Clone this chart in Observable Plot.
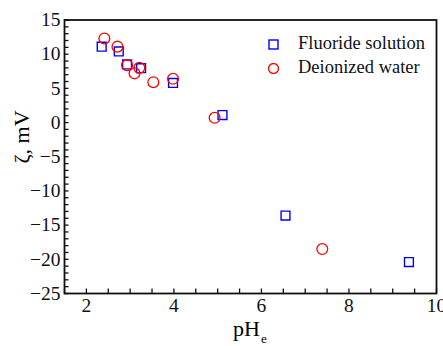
<!DOCTYPE html>
<html>
<head>
<meta charset="utf-8">
<script src="https://cdn.jsdelivr.net/npm/d3@7"></script>
<script src="https://cdn.jsdelivr.net/npm/@observablehq/plot@0.6"></script>
<style>
  html, body { margin: 0; padding: 0; background: #fff; }
  #wrap { position: relative; width: 443px; height: 346px; overflow: hidden; font-family: "Liberation Serif", "Times New Roman", serif; }
  #wrap svg { position: absolute; left: 0; top: 0; }
  #wrap svg text { font-family: "Liberation Serif", "Times New Roman", serif !important; }
  .lab { position: absolute; color: #000; white-space: nowrap; font-family: "Liberation Serif", "Times New Roman", serif; }
  .leg { position: absolute; font-size: 18.5px; color: #111; white-space: nowrap; line-height: 1; font-family: "Liberation Serif", "Times New Roman", serif; }
</style>
</head>
<body>
<div id="wrap"></div>
<script>
// ---- data ----
const seriesNames = ["Fluoride solution", "Deionized water"];
const fluoridePH   = [2.35, 2.74, 2.93, 3.25, 3.98, 5.11, 6.55, 9.37];
const fluorideZeta = [11.1, 10.4, 8.5, 7.95, 5.8, 1.1, -13.6, -20.4];
const waterPH      = [2.41, 2.71, 2.93, 3.10, 3.21, 3.53, 3.98, 4.93, 7.39];
const waterZeta    = [12.3, 11.1, 8.4, 7.2, 8.0, 5.9, 6.4, 0.7, -18.5];
const xTicks = [2, 4, 6, 8, 10];
const yTicks = [-25, -20, -15, -10, -5, 0, 5, 10, 15];

const fluoride = fluoridePH.map((x, i) => ({x, y: fluorideZeta[i]}));
const water = waterPH.map((x, i) => ({x, y: waterZeta[i]}));
const xMinor = d3.range(1.5, 10.001, 0.5);
const yMinor = d3.range(-25, 15.001, 1);

const font = "'Liberation Serif', 'Times New Roman', serif";
const chart = Plot.plot({
  width: 443,
  height: 346,
  marginLeft: 64,
  marginRight: 7,
  marginTop: 19.5,
  marginBottom: 53,
  style: {fontFamily: font, fontSize: "19.5px", color: "#111", background: "white"},
  x: {domain: [1.5, 10]},
  y: {domain: [-25, 15]},
  marks: [
    Plot.axisX({ticks: xMinor, tickSize: -4.5, text: null, strokeWidth: 1.3, label: null}),
    Plot.axisX({ticks: xTicks, tickSize: 0, tickPadding: 5, label: null, fontSize: 19.5, fontFamily: font}),
    Plot.axisY({ticks: yMinor, tickSize: -4.5, text: null, strokeWidth: 1.3, label: null}),
    Plot.axisY({ticks: yTicks, tickSize: 0, tickPadding: 4, label: null, fontSize: 19.5, fontFamily: font}),
    Plot.frame({stroke: "#111", strokeWidth: 1.8}),
    Plot.dot(fluoride, {x: "x", y: "y", symbol: "square", r: 5, stroke: "#0000ff", strokeWidth: 1.4, fill: "none"}),
    Plot.dot(water, {x: "x", y: "y", symbol: "circle", r: 5.4, stroke: "#ff0000", strokeWidth: 1.3, fill: "none"})
  ]
});
const wrap = document.getElementById("wrap");
wrap.appendChild(chart);

// axis labels
const yl = document.createElement("div");
yl.className = "lab";
yl.style.cssText += "font-size:22px;left:22px;top:137px;transform:translate(-50%,-50%) rotate(-90deg);";
yl.textContent = "ζ, mV";
wrap.appendChild(yl);

const xl = document.createElement("div");
xl.className = "lab";
xl.style.cssText += "font-size:22px;left:233px;top:318px;line-height:1;";
xl.innerHTML = "pH<span style='font-size:13px;position:relative;top:7px;left:1px'>e</span>";
wrap.appendChild(xl);

// legend
const legItems = [
  {name: seriesNames[0], sym: "<rect x='1' y='1' width='9' height='9' fill='none' stroke='#0000ff' stroke-width='1.4'/>", top: 44.3},
  {name: seriesNames[1], sym: "<circle cx='5.5' cy='5.5' r='5' fill='none' stroke='#ff0000' stroke-width='1.3'/>", top: 68.3}
];
legItems.forEach(it => {
  const s = document.createElement("div");
  s.className = "leg";
  s.style.left = "267.8px";
  s.style.top = (it.top - 5.5) + "px";
  s.innerHTML = `<svg width="11" height="11" style="position:static;display:block">${it.sym}</svg>`;
  wrap.appendChild(s);
  const t = document.createElement("div");
  t.className = "leg";
  t.style.left = "298px";
  t.style.top = (it.top - 10) + "px";
  t.textContent = it.name;
  wrap.appendChild(t);
});
</script>
</body>
</html>
